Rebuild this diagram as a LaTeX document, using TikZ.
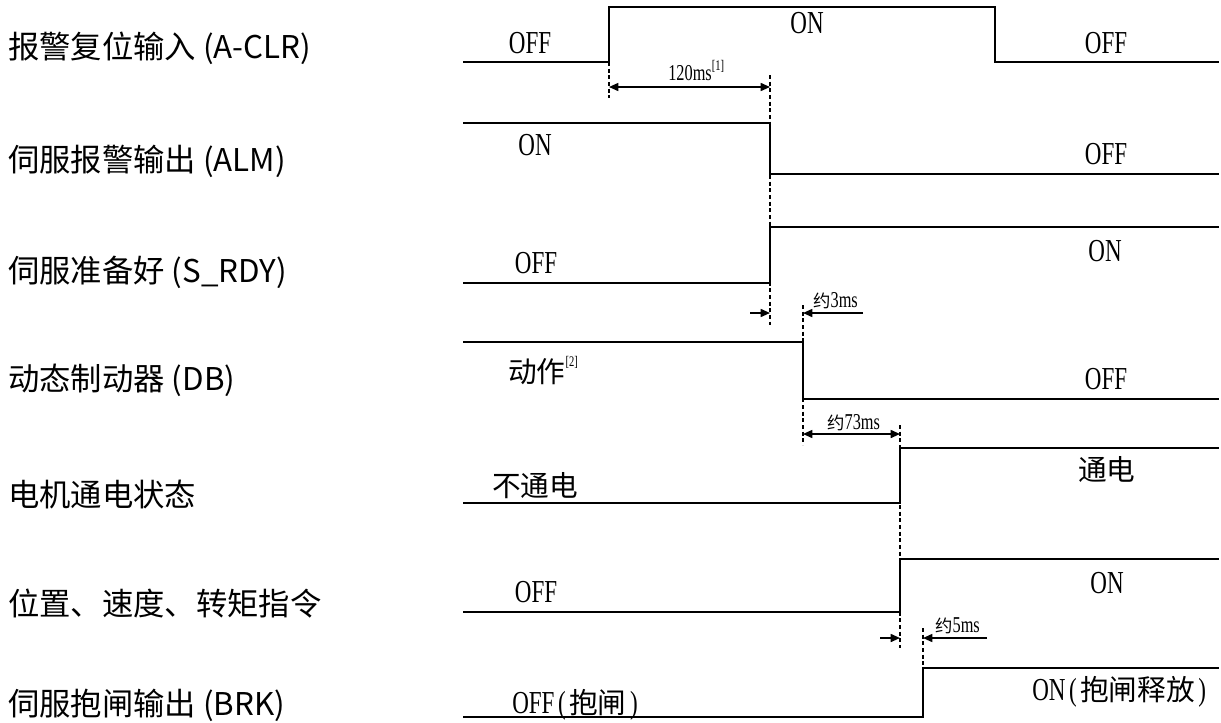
\documentclass[tikz,border=0pt]{standalone}
\usepackage{fontspec}
\usetikzlibrary{arrows.meta}
\newfontfamily\latfont[FakeStretch=0.72]{Liberation Serif}
\newfontfamily\hanfont{Noto Sans CJK SC}
\newcommand\bigzh[1]{{\hanfont\fontsize{21.5}{24}\selectfont #1}}
\newcommand\smallzh[1]{{\hanfont\fontsize{13}{15}\selectfont #1}}
\newcommand\refmark[2]{\raisebox{#2}{\fontsize{11}{11}\selectfont[#1]}}
\newcommand\hwp[1]{\makebox[11pt]{#1}}
\tikzset{wave/.style={line width=1.9pt},
  guide/.style={line width=1.2pt, dash pattern=on 3pt off 2pt},
  dimline/.style={line width=1.2pt, -{Triangle[length=7pt,width=6pt]}},
  dimboth/.style={line width=1.2pt, {Triangle[length=7pt,width=6pt]}-{Triangle[length=7pt,width=6pt]}},
  state/.style={font=\latfont\fontsize{24}{26}\selectfont, inner sep=0pt, anchor=base},
  note/.style={font=\latfont\fontsize{17}{19}\selectfont, inner sep=0pt, anchor=base west},
  signame/.style={font=\hanfont\fontsize{23.5}{26}\selectfont, inner sep=0pt, anchor=west}}

\begin{document}
\begin{tikzpicture}[x=0.75pt, y=-0.75pt]
  \useasboundingbox (0,0) rectangle (1221,722);
  % signal names on the left
  \foreach \y/\n/\t in {48/nclr/报警复位输入 (A-CLR), 161/nalm/伺服报警输出 (ALM),
      272/nrdy/伺服准备好 (S\_RDY), 380/ndb/动态制动器 (DB), 495/nmot/电机通电状态,
      604/ncmd/位置、速度、转矩指令, 705/nbrk/伺服抱闸输出 (BRK)}
    \node[signame] (\n) at (8,\y) {\t};
  % waveforms
  \draw[wave] (463,62) -- (609,62) -- (609,7) -- (995,7) -- (995,62) -- (1219,62);
  \draw[wave] (463,123) -- (770,123) -- (770,174) -- (1219,174);
  \draw[wave] (463,283) -- (770,283) -- (770,227) -- (1219,227);
  \draw[wave] (463,342) -- (803,342) -- (803,399) -- (1219,399);
  \draw[wave] (463,503) -- (900,503) -- (900,448) -- (1219,448);
  \draw[wave] (463,612) -- (900,612) -- (900,559) -- (1219,559);
  \draw[wave] (463,717) -- (923,717) -- (923,668) -- (1219,668);
  % dotted edge markers
  \foreach \x/\a/\b in {609/62/98, 770/75/325, 803/305/445, 900/425/648, 923/628/668}
    \draw[guide] (\x,\a) -- (\x,\b);
  % state texts
  \node[state] (clr0) at (530,53) {OFF};
  \node[state] (clr1) at (807,33) {ON};
  \node[state] (clr2) at (1106,53) {OFF};
  \node[state] (alm0) at (535,155) {ON};
  \node[state] (alm1) at (1106,164) {OFF};
  \node[state] (rdy0) at (536,273) {OFF};
  \node[state] (rdy1) at (1105,261) {ON};
  \node[state, anchor=base west] (db0) at (508,382) {\bigzh{动作}\refmark{2}{12pt}};
  \node[state] (db1) at (1106,389) {OFF};
  \node[state, anchor=base west] (mot0) at (492,496) {\bigzh{不通电}};
  \node[state, anchor=base west] (mot1) at (1078,480) {\bigzh{通电}};
  \node[state] (cmd0) at (536,602) {OFF};
  \node[state] (cmd1) at (1107,593) {ON};
  \node[state, anchor=base west] (brk0) at (512,713) {OFF\hwp{(}\bigzh{抱闸}\hwp{)}};
  \node[state, anchor=base west] (brk1) at (1032,700) {ON\hwp{(}\bigzh{抱闸释放}\hwp{)}};
  % timing intervals
  \coordinate (d1a) at (609,87);  \coordinate (d1b) at (770,87);
  \coordinate (d2a) at (750,313); \coordinate (d2b) at (770,313);
  \coordinate (d2c) at (863,313); \coordinate (d2d) at (803,313);
  \coordinate (d3a) at (803,434); \coordinate (d3b) at (900,434);
  \coordinate (d4a) at (880,638); \coordinate (d4b) at (900,638);
  \coordinate (d4c) at (987,638); \coordinate (d4d) at (923,638);
  \draw[dimboth] (d1a) -- (d1b);
  \draw[dimline] (d2a) -- (d2b);
  \draw[dimline] (d2c) -- (d2d);
  \draw[dimboth] (d3a) -- (d3b);
  \draw[dimline] (d4a) -- (d4b);
  \draw[dimline] (d4c) -- (d4d);
  \node[note] (t120) at (668,80) {120ms\refmark{1}{7pt}};
  \node[note] (t3) at (813,307) {\smallzh{约}3ms};
  \node[note] (t73) at (827,429) {\smallzh{约}73ms};
  \node[note] (t5) at (935,632) {\smallzh{约}5ms};
\end{tikzpicture}
\end{document}
